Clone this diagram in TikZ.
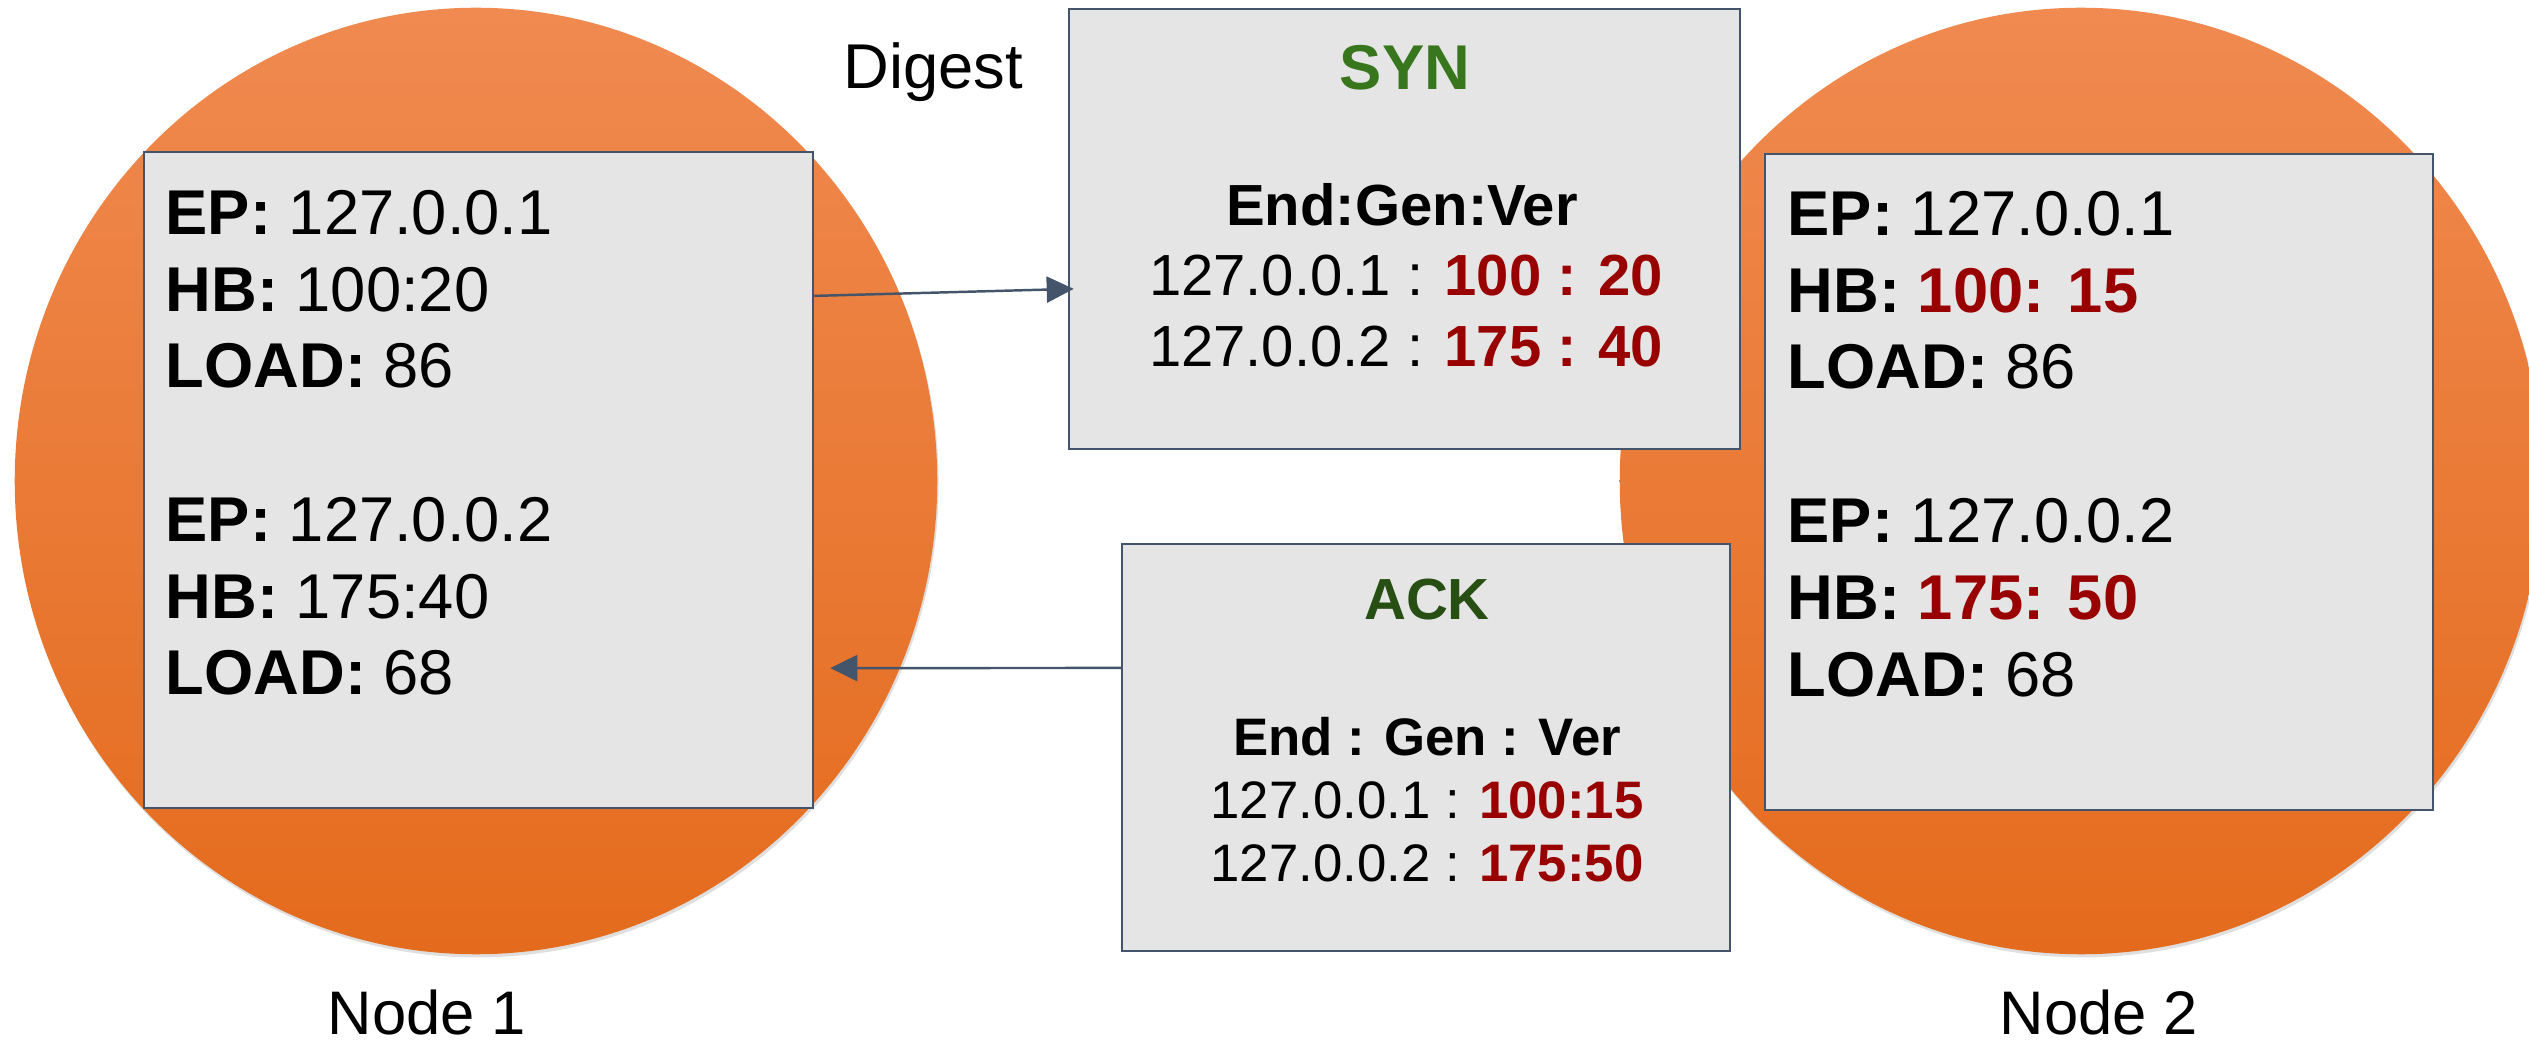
\documentclass[tikz,border=0pt]{standalone}
\usepackage{fontspec}
\setmainfont{Liberation Sans}
\usetikzlibrary{shapes.geometric,arrows.meta,shadows}
\definecolor{orgtop}{HTML}{F08A50}
\definecolor{orgmid}{HTML}{F37B29}
\definecolor{orgbot}{HTML}{E46B1D}
\definecolor{boxfill}{HTML}{E5E5E5}
\definecolor{slate}{HTML}{44546A}
\definecolor{dred}{HTML}{990000}
\definecolor{syngreen}{HTML}{38761D}
\definecolor{ackgreen}{HTML}{274E13}
\tikzset{
  gnode/.style={ellipse, inner sep=0pt, minimum width=9.22cm, minimum height=9.46cm,
    top color=orgtop, middle color=orgmid, bottom color=orgbot,
    drop shadow={opacity=0.25, shadow xshift=0.4pt, shadow yshift=-0.9pt}},
  infobox/.style={rectangle, draw=slate, line width=0.6pt, fill=boxfill, inner sep=0pt},
  txt/.style={inner sep=0pt, anchor=base west, font=\fontsize{18pt}{21pt}\selectfont},
  syntxt/.style={inner sep=0pt, anchor=base, font=\fontsize{16.5pt}{20pt}\selectfont},
  acktxt/.style={inner sep=0pt, anchor=base, font=\fontsize{15pt}{18pt}\selectfont},
  lbl/.style={inner sep=0pt, font=\fontsize{17.5pt}{21pt}\selectfont},
  arr/.style={draw=slate, line width=0.7pt, -{Triangle[length=7.7pt,width=7.4pt]}}
}
\begin{document}
\begin{tikzpicture}[x=0.01cm,y=-0.01cm]
\useasboundingbox (0,0) rectangle (2529,1040);
% gossip nodes (circles)
\node[gnode] (c1) at (476,481) {};
\node[gnode] (c2) at (2081,481) {};
% state boxes
\node[infobox, minimum width=6.69cm, minimum height=6.56cm] (lbox) at (478.5,480) {};
\node[infobox, minimum width=6.68cm, minimum height=6.56cm] (rbox) at (2099,482) {};
\node[infobox, minimum width=6.71cm, minimum height=4.40cm] (syn) at (1404.5,229) {};
\node[infobox, minimum width=6.08cm, minimum height=4.07cm] (ack) at (1426,747.5) {};
% left box text
\node[txt] (l1) at (165,235) {\textbf{EP:} 127.0.0.1};
\node[txt] (l2) at (165,312) {\textbf{HB:} 100:20};
\node[txt] (l3) at (165,388) {\textbf{LOAD:} 86};
\node[txt] (l4) at (165,542) {\textbf{EP:} 127.0.0.2};
\node[txt] (l5) at (165,619) {\textbf{HB:} 175:40};
\node[txt] (l6) at (165,695) {\textbf{LOAD:} 68};
% right box text
\node[txt] (r1) at (1787,236) {\textbf{EP:} 127.0.0.1};
\node[txt] (r2) at (1787,313) {\textbf{HB: \textcolor{dred}{100: 15}}};
\node[txt] (r3) at (1787,389) {\textbf{LOAD:} 86};
\node[txt] (r4) at (1787,543) {\textbf{EP:} 127.0.0.2};
\node[txt] (r5) at (1787,620) {\textbf{HB: \textcolor{dred}{175: 50}}};
\node[txt] (r6) at (1787,696) {\textbf{LOAD:} 68};
% SYN box text
\node[syntxt, font=\fontsize{18pt}{21pt}\selectfont\bfseries, text=syngreen] (s0) at (1405,90) {SYN};
\node[syntxt] (s1) at (1402,226) {\textbf{End:Gen:Ver}};
\node[syntxt] (s2) at (1406,296) {127.0.0.1 : \textbf{\textcolor{dred}{100 : 20}}};
\node[syntxt] (s3) at (1406,367) {127.0.0.2 : \textbf{\textcolor{dred}{175 : 40}}};
% ACK box text
\node[acktxt, font=\fontsize{16.5pt}{20pt}\selectfont\bfseries, text=ackgreen] (a0) at (1427,620) {ACK};
\node[acktxt] (a1) at (1427,755) {\textbf{End : Gen : Ver}};
\node[acktxt] (a2) at (1427,819) {127.0.0.1 : \textbf{\textcolor{dred}{100:15}}};
\node[acktxt] (a3) at (1427,882) {127.0.0.2 : \textbf{\textcolor{dred}{175:50}}};
% labels
\node[lbl, anchor=base west, font=\fontsize{18pt}{21pt}\selectfont] (dig) at (843,89) {Digest};
\node[lbl, anchor=base] (n1) at (427,1034) {Node 1};
\node[lbl, anchor=base] (n2) at (2099,1034) {Node 2};
% connectors
\draw[arr, shorten >=-0.06cm] ([yshift=1.84cm]lbox.east) -- ([yshift=-0.60cm]syn.west);
\draw[arr, shorten >=0.16cm] ([yshift=0.795cm]ack.west) -- ([yshift=-1.88cm]lbox.east);
\end{tikzpicture}
\end{document}
